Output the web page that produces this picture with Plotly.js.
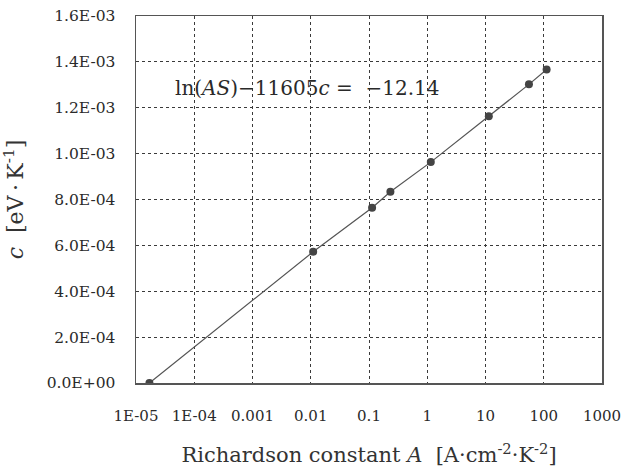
<!DOCTYPE html>
<html>
<head>
<meta charset="utf-8">
<script src="https://cdn.plot.ly/plotly-3.0.1.min.js"></script>
<style>html,body{margin:0;padding:0;background:#fff;}#chart{width:622px;height:476px;}</style>
</head>
<body>
<div id="chart"></div>
<script>
// Data
const richardsonA = [1.7e-5, 0.011, 0.113, 0.233, 1.15, 11.4, 55.7, 112];
const cValues = [0.0, 5.72e-4, 7.64e-4, 8.34e-4, 9.63e-4, 1.163e-3, 1.302e-3, 1.367e-3];

const xTickVals = [1e-5, 1e-4, 1e-3, 1e-2, 0.1, 1, 10, 100, 1000];
const xTickText = ["1E-05", "1E-04", "0.001", "0.01", "0.1", "1", "10", "100", "1000"];
const yTickVals = [0, 2e-4, 4e-4, 6e-4, 8e-4, 1e-3, 1.2e-3, 1.4e-3, 1.6e-3];
const yTickText = ["0.0E+00", "2.0E-04", "4.0E-04", "6.0E-04", "8.0E-04", "1.0E-03", "1.2E-03", "1.4E-03", "1.6E-03"];

const serif = "'DejaVu Serif', 'Liberation Serif', serif";

const trace = {
  x: richardsonA,
  y: cValues,
  type: "scatter",
  mode: "lines+markers",
  line: {color: "#555", width: 1.2},
  marker: {color: "#444", size: 8},
  showlegend: false
};

const layout = {
  width: 622, height: 476,
  margin: {l: 136, r: 20, t: 16, b: 93},
  paper_bgcolor: "#fff", plot_bgcolor: "#fff",
  font: {family: serif, color: "#2a2a2a", size: 15},
  xaxis: {
    type: "log",
    range: [-5, 3],
    tickvals: xTickVals,
    ticktext: xTickText,
    ticks: "",
    ticklabelstandoff: 18,
    showgrid: true,
    gridcolor: "#3a3a3a",
    griddash: "dot",
    gridwidth: 1,
    showline: true, linecolor: "#555", linewidth: 1.5, mirror: true,
    zeroline: false,
    tickfont: {family: serif, size: 15, color: "#2a2a2a"},
    title: {text: "Richardson constant <i>A</i>  [A·cm<sup>-2</sup>·K<sup>-2</sup>]", font: {family: serif, size: 21, color: "#333"}, standoff: 24}
  },
  yaxis: {
    range: [0, 1.6e-3],
    tickvals: yTickVals,
    ticktext: yTickText,
    ticks: "",
    ticklabelstandoff: 16,
    showgrid: true,
    gridcolor: "#3a3a3a",
    griddash: "dot",
    gridwidth: 1,
    showline: true, linecolor: "#555", linewidth: 1.5, mirror: true,
    zeroline: false,
    tickfont: {family: serif, size: 15.5, color: "#2a2a2a"},
    title: {text: "<i>c</i>  [eV\u2009·\u2009K<sup>-1</sup>]", font: {family: serif, size: 22, color: "#333"}, standoff: 18}
  },
  annotations: [{
    xref: "paper", yref: "paper",
    x: 0.08, y: 0.805, xanchor: "left", yanchor: "middle",
    text: "ln(<i>AS</i>)−11605<i>c</i> =  −12.14",
    showarrow: false,
    font: {family: serif, size: 20, color: "#2a2a2a"}
  }]
};

Plotly.newPlot("chart", [trace], layout, {displayModeBar: false, staticPlot: true});
</script>
</body>
</html>
